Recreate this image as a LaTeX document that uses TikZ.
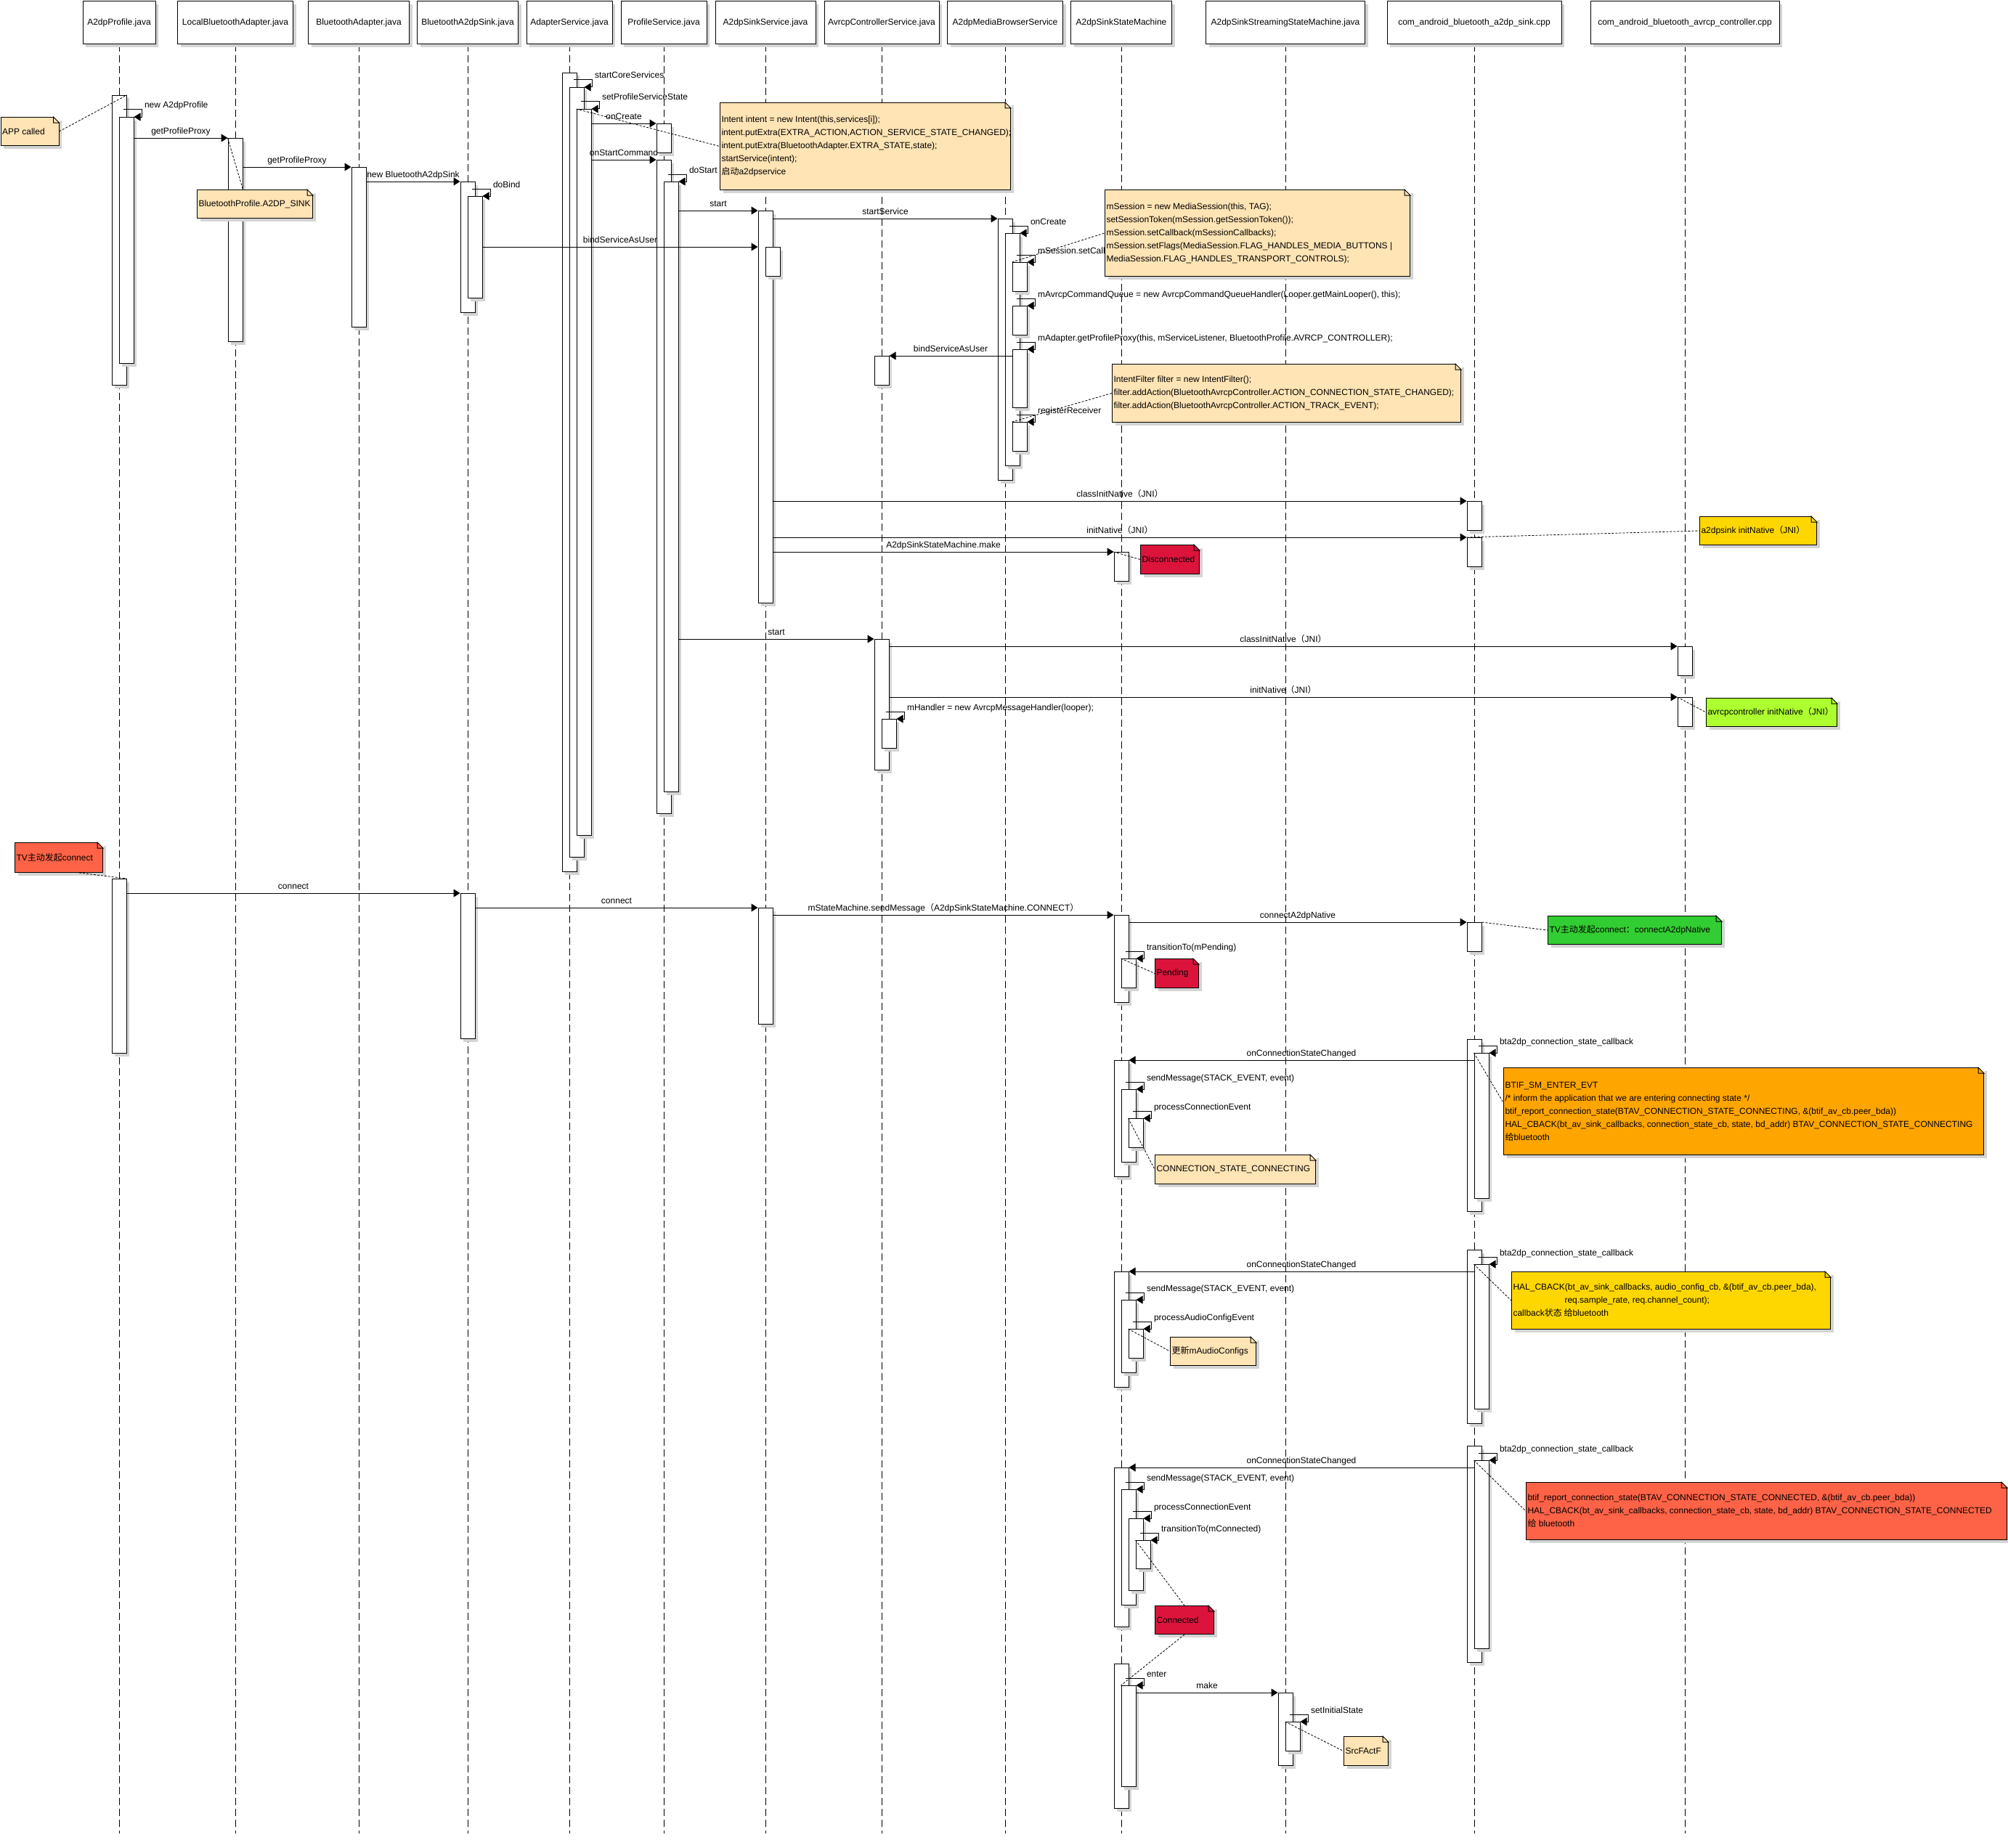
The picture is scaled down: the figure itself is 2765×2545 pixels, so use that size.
\documentclass[tikz,border=0pt]{standalone}
\usepackage{fontspec}
\setmainfont{Liberation Sans}
\newfontfamily\cjk{Noto Sans CJK SC}
\usetikzlibrary{arrows.meta,calc,shadows}

\definecolor{notefill}{RGB}{255,228,181}
\definecolor{crimsonfill}{RGB}{220,20,60}
\definecolor{tomatofill}{RGB}{255,99,71}
\definecolor{goldfill}{RGB}{255,215,0}
\definecolor{orangefill}{RGB}{255,165,0}
\definecolor{limefill}{RGB}{50,205,50}
\definecolor{gyfill}{RGB}{173,255,47}

\newcommand{\zh}[1]{{\cjk #1}}
% self call: loop from the outer bar back onto the nested bar
\newcommand{\selfmsg}[3]{%
  \draw[msg] ($(#1.north west)+(6pt,10pt)$) -| ($(#1.north east)+(11pt,0pt)$) -- (#1.north east);
  \node[lbl,anchor=base west] (#2) at ($(#1.north east)+(14pt,12pt)$) {#3};}
\newcommand{\notefold}[1]{%
  \fill[white] ($(#1.north east)+(-8pt,0.6pt)$) -- ($(#1.north east)+(0.6pt,0.6pt)$) -- ($(#1.north east)+(0.6pt,-8pt)$) -- cycle;
  \draw ($(#1.north east)+(-8pt,0pt)$) -- ($(#1.north east)+(0pt,-8pt)$) -- ++(-8pt,0pt) -- cycle;}

\begin{document}
\begin{tikzpicture}[x=1pt,y=-1pt,line width=1pt,
  every node/.style={font=\fontsize{12}{18}\selectfont},
  shadowed/.style={drop shadow={shadow xshift=4pt,shadow yshift=-4pt,fill=black!17,opacity=1}},
  head/.style={rectangle,draw,fill=white,minimum height=59pt,inner sep=0pt,shadowed},
  act/.style={rectangle,draw,fill=white,minimum width=20pt,inner sep=0pt,anchor=north,shadowed},
  life/.style={dash pattern=on 10pt off 5pt},
  msg/.style={-{Triangle[length=9pt,width=11pt]}},
  lbl/.style={inner sep=0pt},
  mlbl/.style={lbl,anchor=base,yshift=5.5pt},
  note/.style n args={3}{rectangle,draw,fill=#3,minimum width=#1,minimum height=#2,inner sep=0pt,anchor=north west,shadowed},
  notetxt/.style={anchor=west,align=left,inner sep=2pt},
  link/.style={dash pattern=on 3pt off 2pt,line width=0.8pt}]

\useasboundingbox (0,0) rectangle (2765,2545);
\fill[white] (0,0) rectangle (2765,2545);

% lifelines
\foreach \n/\x/\w/\t in {pro/164/100/A2dpProfile.java,
  lba/324/159/LocalBluetoothAdapter.java,
  bad/494/139/BluetoothAdapter.java,
  bas/644/139/BluetoothA2dpSink.java,
  ads/784/118/AdapterService.java,
  prs/914/118/ProfileService.java,
  sks/1054/138/A2dpSinkService.java,
  acs/1214/158/AvrcpControllerService.java,
  mbs/1384/159/A2dpMediaBrowserService,
  ssm/1544/139/A2dpSinkStateMachine,
  stm/1770/219/A2dpSinkStreamingStateMachine.java,
  snk/2030/240/com\_android\_bluetooth\_a2dp\_sink.cpp,
  avc/2320/260/com\_android\_bluetooth\_avrcp\_controller.cpp} {
  \coordinate (e\n) at (\x,2525);
  \draw[life] (\x,61) -- (e\n);
  \node[head,minimum width=\w pt] (h\n) at (\x,31.5) {\t};
}

% activation bars
\foreach \n/\x/\y/\h in {p1/164/131/399, p1a/174/161/339, p1c/164/1210/240,
  lb1/324/190/280, ba1/494/230/220,
  bs1/644/250/180, bs1a/654/270/140, bs2/644/1230/200,
  as1/784/100/1100, as1a/794/120/1060, as1b/804/150/1000,
  ps1/914/170/40, ps2/914/220/900, ps2a/924/250/840,
  ss1/1054/290/540, ss1a/1064/340/40, ss2/1054/1250/160,
  ac1/1214/490/40, ac2/1214/880/180, ac2a/1224/990/40,
  mb1/1384/301/360, mb1a/1394/321/320, mb1b/1404/361/40, mb1c/1404/421/40, mb1d/1404/481/80, mb1e/1404/581/40,
  sm1/1544/760/40, sm2/1544/1260/120, sm2a/1554/1320/40,
  sm3/1544/1460/160, sm3a/1554/1500/100, sm3b/1564/1540/40,
  sm4/1544/1751/159, sm4a/1554/1790/100, sm4b/1564/1830/40,
  sm5/1544/2021/219, sm5a/1554/2051/159, sm5b/1564/2091/99, sm5c/1574/2121/39,
  sm6/1544/2291/199, sm6a/1554/2321/139,
  st1/1770/2331/100, st1a/1780/2371/40,
  ak1/2030/690/40, ak2/2030/740/40, ak3/2030/1270/40,
  ak4/2030/1431/237, ak4a/2040/1450/200,
  ak5/2030/1721/239, ak5a/2040/1741/199,
  ak6/2030/1991/298, ak6a/2040/2011/259,
  ar1/2320/890/40, ar2/2320/960/40} {
  \node[act,minimum height=\h pt] (\n) at (\x,\y) {};
}

% messages
\draw[msg] (p1a.east |- lb1.north) -- node[mlbl] (t1) {getProfileProxy} (lb1.north west);
\draw[msg] (lb1.east |- ba1.north) -- node[mlbl] (t2) {getProfileProxy} (ba1.north west);
\draw[msg] (ba1.east |- bs1.north) -- node[mlbl] (t3) {new BluetoothA2dpSink} (bs1.north west);
\draw[msg] (bs1a.east |- ss1a.north) -- node[mlbl] (t4) {bindServiceAsUser} (ss1.west |- ss1a.north);
\draw[msg] (as1b.east |- ps1.north) -- node[mlbl] (t5) {onCreate} (ps1.north west);
\draw[msg] (as1b.east |- ps2.north) -- node[mlbl] (t6) {onStartCommand} (ps2.north west);
\draw[msg] (ps2a.east |- ss1.north) -- node[mlbl] (t7) {start} (ss1.north west);
\draw[msg] (ss1.east |- mb1.north) -- node[mlbl] (t8) {startService} (mb1.north west);
\draw[msg] (mb1d.west |- ac1.north) -- node[mlbl] (t9) {bindServiceAsUser} (ac1.north east);
\draw[msg] (ss1.east |- ak1.north) -- node[mlbl] (t10) {classInitNative\zh{（}JNI\zh{）}} (ak1.north west);
\draw[msg] (ss1.east |- ak2.north) -- node[mlbl] (t11) {initNative\zh{（}JNI\zh{）}} (ak2.north west);
\draw[msg] (ss1.east |- sm1.north) -- node[mlbl] (t12) {A2dpSinkStateMachine.make} (sm1.north west);
\draw[msg] (ps2a.east |- ac2.north) -- node[mlbl] (t13) {start} (ac2.north west);
\draw[msg] (ac2.east |- ar1.north) -- node[mlbl] (t14) {classInitNative\zh{（}JNI\zh{）}} (ar1.north west);
\draw[msg] (ac2.east |- ar2.north) -- node[mlbl] (t15) {initNative\zh{（}JNI\zh{）}} (ar2.north west);
\draw[msg] (p1c.east |- bs2.north) -- node[mlbl] (t16) {connect} (bs2.north west);
\draw[msg] (bs2.east |- ss2.north) -- node[mlbl] (t17) {connect} (ss2.north west);
\draw[msg] (ss2.east |- sm2.north) -- node[mlbl] (t18) {mStateMachine.sendMessage\zh{（}A2dpSinkStateMachine.CONNECT\zh{）}} (sm2.north west);
\draw[msg] (sm2.east |- ak3.north) -- node[mlbl] (t19) {connectA2dpNative} (ak3.north west);
\draw[msg] (ak4a.west |- sm3.north) -- node[mlbl] (t20) {onConnectionStateChanged} (sm3.north east);
\draw[msg] (ak5a.west |- sm4.north) -- node[mlbl] (t21) {onConnectionStateChanged} (sm4.north east);
\draw[msg] (ak6a.west |- sm5.north) -- node[mlbl] (t22) {onConnectionStateChanged} (sm5.north east);
\draw[msg] (sm6a.east |- st1.north) -- node[mlbl] (t23) {make} (st1.north west);

\selfmsg{p1a}{s1}{new A2dpProfile}
\selfmsg{bs1a}{s2}{doBind}
\selfmsg{as1a}{s3}{startCoreServices}
\selfmsg{as1b}{s4}{setProfileServiceState}
\selfmsg{ps2a}{s5}{doStart}
\selfmsg{mb1a}{s6}{onCreate}
\selfmsg{mb1b}{s7}{mSession.setCallback}
\selfmsg{mb1c}{s8}{mAvrcpCommandQueue = new AvrcpCommandQueueHandler(Looper.getMainLooper(), this);}
\selfmsg{mb1d}{s9}{mAdapter.getProfileProxy(this, mServiceListener, BluetoothProfile.AVRCP\_CONTROLLER);}
\selfmsg{mb1e}{s10}{registerReceiver}
\selfmsg{ac2a}{s11}{mHandler = new AvrcpMessageHandler(looper);}
\selfmsg{sm2a}{s12}{transitionTo(mPending)}
\selfmsg{ak4a}{s13}{bta2dp\_connection\_state\_callback}
\selfmsg{sm3a}{s14}{sendMessage(STACK\_EVENT, event)}
\selfmsg{sm3b}{s15}{processConnectionEvent}
\selfmsg{ak5a}{s16}{bta2dp\_connection\_state\_callback}
\selfmsg{sm4a}{s17}{sendMessage(STACK\_EVENT, event)}
\selfmsg{sm4b}{s18}{processAudioConfigEvent}
\selfmsg{ak6a}{s19}{bta2dp\_connection\_state\_callback}
\selfmsg{sm5a}{s20}{sendMessage(STACK\_EVENT, event)}
\selfmsg{sm5b}{s21}{processConnectionEvent}
\selfmsg{sm5c}{s22}{transitionTo(mConnected)}
\selfmsg{sm6a}{s23}{enter}
\selfmsg{st1a}{s24}{setInitialState}

% notes
\node[note={80pt}{39pt}{notefill}] (apc) at (0.5,161) {};
\node[notetxt] (apct) at (apc.west) {APP called};
\notefold{apc}
\node[note={159pt}{39pt}{notefill}] (bpn) at (271,261) {};
\node[notetxt] (bpnt) at (bpn.west) {BluetoothProfile.A2DP\_SINK};
\notefold{bpn}
\node[note={400pt}{120pt}{notefill}] (intn) at (991,141) {};
\node[notetxt] (intnt) at (intn.west) {Intent intent = new Intent(this,services[i]);\\
intent.putExtra(EXTRA\_ACTION,ACTION\_SERVICE\_STATE\_CHANGED);\\
intent.putExtra(BluetoothAdapter.EXTRA\_STATE,state);\\
startService(intent);\\
\zh{启动}a2dpservice};
\notefold{intn}
\node[note={420pt}{119pt}{notefill}] (msn) at (1521,261) {};
\node[notetxt] (msnt) at (msn.west) {mSession = new MediaSession(this, TAG);\\
setSessionToken(mSession.getSessionToken());\\
mSession.setCallback(mSessionCallbacks);\\
mSession.setFlags(MediaSession.FLAG\_HANDLES\_MEDIA\_BUTTONS |\\
MediaSession.FLAG\_HANDLES\_TRANSPORT\_CONTROLS);};
\notefold{msn}
\node[note={480pt}{80pt}{notefill}] (ifn) at (1531,501) {};
\node[notetxt] (ifnt) at (ifn.west) {IntentFilter filter = new IntentFilter();\\
filter.addAction(BluetoothAvrcpController.ACTION\_CONNECTION\_STATE\_CHANGED);\\
filter.addAction(BluetoothAvrcpController.ACTION\_TRACK\_EVENT);};
\notefold{ifn}
\node[note={81pt}{40pt}{crimsonfill}] (dcn) at (1570,750) {};
\node[notetxt] (dcnt) at (dcn.west) {Disconnected};
\notefold{dcn}
\node[note={161pt}{39pt}{goldfill}] (asn) at (2340,711) {};
\node[notetxt] (asnt) at (asn.west) {a2dpsink initNative\zh{（}JNI\zh{）}};
\notefold{asn}
\node[note={180pt}{39pt}{gyfill}] (acn) at (2349,961) {};
\node[notetxt] (acnt) at (acn.west) {avrcpcontroller initNative\zh{（}JNI\zh{）}};
\notefold{acn}
\node[note={121pt}{41pt}{tomatofill}] (tvn) at (20,1160) {};
\node[notetxt] (tvnt) at (tvn.west) {TV\zh{主动发起}connect};
\notefold{tvn}
\node[note={60pt}{40pt}{crimsonfill}] (pdn) at (1590,1320) {};
\node[notetxt] (pdnt) at (pdn.west) {Pending};
\notefold{pdn}
\node[note={239pt}{39pt}{limefill}] (gcn) at (2131,1261) {};
\node[notetxt] (gcnt) at (gcn.west) {TV\zh{主动发起}connect\zh{：}connectA2dpNative};
\notefold{gcn}
\node[note={221pt}{40pt}{notefill}] (csn) at (1590,1590) {};
\node[notetxt] (csnt) at (csn.west) {CONNECTION\_STATE\_CONNECTING};
\notefold{csn}
\node[note={661pt}{120pt}{orangefill}] (orn) at (2070,1470) {};
\node[notetxt] (ornt) at (orn.west) {BTIF\_SM\_ENTER\_EVT\\
/* inform the application that we are entering connecting state */\\
btif\_report\_connection\_state(BTAV\_CONNECTION\_STATE\_CONNECTING, \&(btif\_av\_cb.peer\_bda))\\
HAL\_CBACK(bt\_av\_sink\_callbacks, connection\_state\_cb, state, bd\_addr) BTAV\_CONNECTION\_STATE\_CONNECTING\\
\zh{给}bluetooth};
\notefold{orn}
\node[note={118pt}{39pt}{notefill}] (man) at (1611,1841) {};
\node[notetxt] (mant) at (man.west) {\zh{更新}mAudioConfigs};
\notefold{man}
\node[note={439pt}{79pt}{goldfill}] (ycn) at (2081,1751) {};
\node[notetxt] (ycnt) at (ycn.west) {HAL\_CBACK(bt\_av\_sink\_callbacks, audio\_config\_cb, \&(btif\_av\_cb.peer\_bda),\\
\hspace*{71pt}req.sample\_rate, req.channel\_count);\\
callback\zh{状态 给}bluetooth};
\notefold{ycn}
\node[note={81pt}{39pt}{crimsonfill}] (cdn) at (1590,2211) {};
\node[notetxt] (cdnt) at (cdn.west) {Connected};
\notefold{cdn}
\node[note={662pt}{79pt}{tomatofill}] (rdn) at (2101,2041) {};
\node[notetxt] (rdnt) at (rdn.west) {btif\_report\_connection\_state(BTAV\_CONNECTION\_STATE\_CONNECTED, \&(btif\_av\_cb.peer\_bda))\\
HAL\_CBACK(bt\_av\_sink\_callbacks, connection\_state\_cb, state, bd\_addr) BTAV\_CONNECTION\_STATE\_CONNECTED\\
\zh{给} bluetooth};
\notefold{rdn}
\node[note={61pt}{40pt}{notefill}] (sfn) at (1850,2391) {};
\node[notetxt] (sfnt) at (sfn.west) {SrcFActF};
\notefold{sfn}

% note links
\draw[link] (apc.east) -- (p1.north east);
\draw[link] (lb1.north west) -- (bpn.north -| lb1.east);
\draw[link] (as1b.north west) -- (intn.west);
\draw[link] (mb1b.north west) -- (msn.west);
\draw[link] (mb1e.north west) -- (ifn.west);
\draw[link] (sm1.north west) -- (dcn.west);
\draw[link] (ak2.north west) -- (asn.west);
\draw[link] (ar2.north west) -- (acn.west);
\draw[link] ($(tvn.south)+(28pt,0pt)$) -- (p1c.north east);
\draw[link] (sm2a.north west) -- (pdn.west);
\draw[link] (ak3.north east) -- (gcn.west);
\draw[link] (sm3b.north west) -- (csn.west);
\draw[link] (ak4a.north west) -- ($(orn.north west)!0.4!(orn.south west)$);
\draw[link] (sm4b.north west) -- (man.west);
\draw[link] (ak5a.north west) -- (ycn.west);
\draw[link] (sm5c.north west) -- (cdn.north);
\draw[link] (ak6a.north west) -- (rdn.west);
\draw[link] (cdn.south) -- (sm6a.north west);
\draw[link] (st1a.north west) -- (sfn.west);
\end{tikzpicture}
\end{document}
